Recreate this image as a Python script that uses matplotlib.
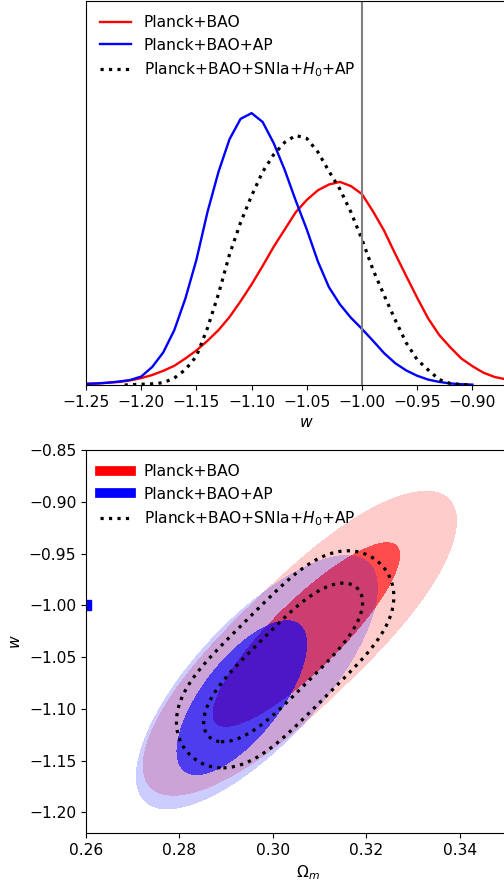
import numpy as np
import matplotlib.pyplot as plt
from matplotlib.lines import Line2D

plt.rcParams['font.size'] = 11.2
plt.rcParams['mathtext.fontset'] = 'dejavusans'

labels = ['Planck+BAO', 'Planck+BAO+AP', r'Planck+BAO+SNIa+$H_0$+AP']

# 1D posteriors of w
w_bao = [-1.25, -1.24, -1.23, -1.22, -1.21, -1.20, -1.19, -1.18, -1.17, -1.16, -1.15, -1.14, -1.13,
         -1.12, -1.11, -1.10, -1.09, -1.08, -1.07, -1.06, -1.05, -1.04, -1.03, -1.02, -1.01, -1.00,
         -0.99, -0.98, -0.97, -0.96, -0.95, -0.94, -0.93, -0.92, -0.91, -0.90, -0.89, -0.88, -0.87,
         -0.86, -0.85]
p_bao = [0.003, 0.004, 0.006, 0.008, 0.012, 0.018, 0.026, 0.037, 0.050, 0.069, 0.090, 0.115, 0.143,
         0.177, 0.218, 0.262, 0.310, 0.360, 0.405, 0.450, 0.482, 0.507, 0.522, 0.529, 0.518, 0.497,
         0.452, 0.402, 0.342, 0.284, 0.227, 0.173, 0.130, 0.098, 0.069, 0.049, 0.032, 0.021, 0.015,
         0.010, 0.007]

w_ap = [-1.25, -1.24, -1.23, -1.22, -1.21, -1.20, -1.19, -1.18, -1.17, -1.16, -1.15, -1.14, -1.13,
        -1.12, -1.11, -1.10, -1.09, -1.08, -1.07, -1.06, -1.05, -1.04, -1.03, -1.02, -1.01, -1.00,
        -0.99, -0.98, -0.97, -0.96, -0.95, -0.94, -0.93, -0.92, -0.91, -0.90]
p_ap = [0.003, 0.004, 0.006, 0.009, 0.013, 0.022, 0.047, 0.085, 0.143, 0.225, 0.326, 0.450, 0.555,
        0.640, 0.693, 0.708, 0.685, 0.630, 0.560, 0.480, 0.405, 0.322, 0.255, 0.210, 0.175, 0.146,
        0.115, 0.083, 0.057, 0.038, 0.024, 0.014, 0.008, 0.004, 0.002, 0.001]

w_all = [-1.215, -1.20, -1.19, -1.18, -1.17, -1.16, -1.15, -1.14, -1.13, -1.12, -1.11, -1.10, -1.09,
         -1.08, -1.07, -1.06, -1.05, -1.04, -1.03, -1.02, -1.01, -1.00, -0.99, -0.98, -0.97, -0.96,
         -0.95, -0.94, -0.93, -0.92, -0.91, -0.90]
p_all = [0.000, 0.002, 0.003, 0.006, 0.018, 0.040, 0.075, 0.148, 0.237, 0.340, 0.423, 0.493, 0.555,
         0.600, 0.632, 0.650, 0.642, 0.607, 0.557, 0.510, 0.450, 0.379, 0.300, 0.234, 0.170, 0.110,
         0.066, 0.039, 0.014, 0.004, 0.001, 0.000]

# 2D contours, [68%, 95%] for each data set:
# centre (Om, w), half major axis (dOm, dw), half minor axis (dOm, dw), end bluntness
bao_centre = [(0.30714, -1.02830), (0.30575, -1.03669)]
bao_major = [(0.01929, 0.08553), (0.03193, 0.13896)]
bao_minor = [(-0.00510, 0.02337), (-0.00914, 0.04264)]
bao_blunt = [2.0, 2.5]

ap_centre = [(0.29333, -1.08925), (0.29656, -1.07430)]
ap_major = [(0.01225, 0.07068), (0.02385, 0.11524)]
ap_minor = [(-0.00649, 0.02287), (-0.00977, 0.04108)]
ap_blunt = [2.0, 2.0]

all_centre = [(0.30218, -1.05521), (0.30261, -1.05222)]
all_major = [(0.01588, 0.07159), (0.02042, 0.09205)]
all_minor = [(-0.00469, 0.02114), (-0.00832, 0.03751)]
all_blunt = [3.5, 4.0]

wticks_top = [-1.25, -1.20, -1.15, -1.10, -1.05, -1.00, -0.95, -0.90]
omticks = [0.26, 0.28, 0.30, 0.32, 0.34]
wticks_bot = [-0.85, -0.90, -0.95, -1.00, -1.05, -1.10, -1.15, -1.20]


def contour_field(X, Y, centre, major, minor, n):
    # coordinates along the major / minor axis, region is q <= 1
    M = np.array([[major[0], minor[0]], [major[1], minor[1]]])
    Minv = np.linalg.inv(M)
    dx = X - centre[0]
    dy = Y - centre[1]
    s = Minv[0, 0]*dx + Minv[0, 1]*dy
    t = Minv[1, 0]*dx + Minv[1, 1]*dy
    return np.abs(s)**n + t**2


fig = plt.figure(figsize=(5.04, 8.84), dpi=100)

# top panel: 1D posteriors
ax1 = fig.add_axes([86/504, 499/884, 441.6/504, 384/884])
ax1.plot(w_bao, p_bao, color='red', lw=1.7, label=labels[0])
ax1.plot(w_ap, p_ap, color='blue', lw=1.7, label=labels[1])
ax1.plot(w_all, p_all, color='black', lw=2.3, ls=':', label=labels[2])
ax1.axvline(-1.0, color='grey', lw=1.5)
ax1.set_xlim(-1.25, -0.85)
ax1.set_ylim(0, 1.0)
ax1.set_xticks(wticks_top)
ax1.set_yticks([])
ax1.set_xlabel(r'$w$')
ax1.legend(loc='upper left', frameon=False)

# bottom panel: 2D contours
ax2 = fig.add_axes([86/504, 51/884, 444/504, 383/884])
X, Y = np.meshgrid(np.linspace(0.26, 0.355, 800), np.linspace(-1.22, -0.85, 800))

for centre, major, minor, blunt, col in [(bao_centre, bao_major, bao_minor, bao_blunt, 'red'),
                                         (ap_centre, ap_major, ap_minor, ap_blunt, 'blue')]:
    # outer (95%) first, then inner (68%) on top
    q = contour_field(X, Y, centre[1], major[1], minor[1], blunt[1])
    ax2.contourf(X, Y, q, levels=[0, 1], colors=[col], alpha=0.2)
    q = contour_field(X, Y, centre[0], major[0], minor[0], blunt[0])
    ax2.contourf(X, Y, q, levels=[0, 1], colors=[col], alpha=0.625)

for i in range(2):
    q = contour_field(X, Y, all_centre[i], all_major[i], all_minor[i], all_blunt[i])
    ax2.contour(X, Y, q, levels=[1], colors='black', linestyles=':', linewidths=2.3)

ax2.plot(0.26, -1.0, 's', color='blue', ms=7.5)

ax2.set_xlim(0.26, 0.355)
ax2.set_ylim(-1.22, -0.85)
ax2.set_xticks(omticks)
ax2.set_yticks(wticks_bot)
ax2.set_xlabel(r'$\Omega_m$')
ax2.set_ylabel(r'$w$')

handles = [Line2D([], [], color='red', lw=7),
           Line2D([], [], color='blue', lw=7),
           Line2D([], [], color='black', lw=2.3, ls=':')]
ax2.legend(handles, labels, loc='upper left', frameon=False)

plt.savefig('out.png', dpi=100)
